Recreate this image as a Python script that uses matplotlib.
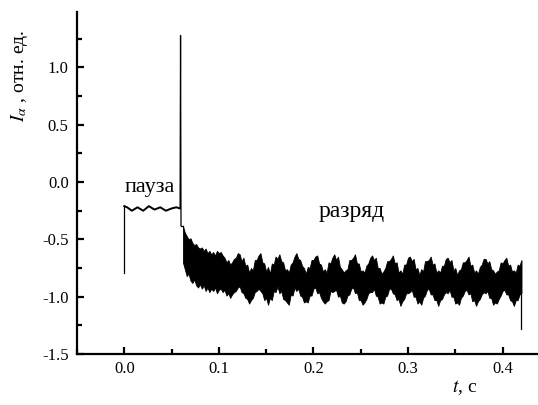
import numpy as np
import matplotlib
matplotlib.use('Agg')
import matplotlib.pyplot as plt
from matplotlib.ticker import MultipleLocator, FormatStrFormatter

plt.rcParams['font.family'] = ['Liberation Serif', 'DejaVu Serif']
plt.rcParams['mathtext.fontset'] = 'stix'
plt.rcParams['axes.unicode_minus'] = False

# ---- data ----
# pause part (t in s, I in rel. units)
t_pause = [0.0, 0.0, 0.003, 0.008, 0.014, 0.020, 0.026, 0.032, 0.038, 0.044, 0.050, 0.055, 0.059]
i_pause = [-0.79, -0.21, -0.22, -0.25, -0.22, -0.25, -0.21, -0.24, -0.22, -0.25, -0.23, -0.22, -0.23]

# switch spike
t_spike = [0.059, 0.0595, 0.0600]
i_spike = [-0.23, 1.28, -0.38]

# discharge part: upper / lower edge of the noisy band, every 2 ms from 0.062 s
t_band = np.round(0.062 + 0.002 * np.arange(180), 3)
band_hi = [
    -0.38, -0.44, -0.47, -0.50, -0.49, -0.53, -0.55, -0.54, -0.57, -0.58,
    -0.57, -0.60, -0.58, -0.62, -0.60, -0.63, -0.61, -0.64, -0.60, -0.62,
    -0.61, -0.64, -0.66, -0.70, -0.68, -0.72, -0.70, -0.67, -0.66, -0.62,
    -0.63, -0.69, -0.66, -0.73, -0.72, -0.79, -0.75, -0.77, -0.68, -0.68,
    -0.64, -0.62, -0.70, -0.71, -0.78, -0.74, -0.80, -0.71, -0.72, -0.65,
    -0.67, -0.63, -0.69, -0.70, -0.77, -0.76, -0.79, -0.72, -0.70, -0.65,
    -0.62, -0.67, -0.68, -0.73, -0.75, -0.80, -0.74, -0.75, -0.68, -0.68,
    -0.65, -0.64, -0.71, -0.72, -0.78, -0.76, -0.79, -0.70, -0.71, -0.66,
    -0.63, -0.68, -0.65, -0.74, -0.76, -0.79, -0.77, -0.76, -0.68, -0.68,
    -0.66, -0.63, -0.71, -0.71, -0.78, -0.77, -0.79, -0.73, -0.71, -0.66,
    -0.64, -0.68, -0.66, -0.75, -0.75, -0.80, -0.78, -0.75, -0.69, -0.69,
    -0.67, -0.64, -0.71, -0.70, -0.79, -0.77, -0.80, -0.72, -0.72, -0.66,
    -0.65, -0.69, -0.67, -0.76, -0.75, -0.81, -0.76, -0.78, -0.69, -0.69,
    -0.68, -0.65, -0.72, -0.71, -0.79, -0.77, -0.79, -0.73, -0.73, -0.67,
    -0.66, -0.70, -0.68, -0.77, -0.75, -0.81, -0.77, -0.76, -0.70, -0.70,
    -0.68, -0.65, -0.73, -0.72, -0.79, -0.77, -0.80, -0.74, -0.72, -0.67,
    -0.67, -0.71, -0.69, -0.76, -0.77, -0.80, -0.78, -0.77, -0.70, -0.71,
    -0.68, -0.66, -0.73, -0.72, -0.78, -0.77, -0.79, -0.72, -0.73, -0.68]
band_lo = [
    -0.70, -0.76, -0.82, -0.80, -0.86, -0.88, -0.85, -0.90, -0.92, -0.89,
    -0.93, -0.90, -0.95, -0.92, -0.96, -0.93, -0.95, -0.92, -0.97, -0.94,
    -0.93, -0.96, -0.94, -0.99, -0.97, -1.01, -0.98, -0.96, -0.95, -0.92,
    -0.91, -0.96, -0.97, -1.01, -1.02, -1.06, -1.03, -1.01, -0.96, -0.95,
    -0.93, -0.95, -0.97, -1.03, -1.01, -1.07, -1.01, -1.03, -0.95, -0.96,
    -0.91, -0.97, -0.95, -1.02, -1.03, -1.05, -1.07, -0.98, -0.99, -0.92,
    -0.95, -0.93, -0.99, -1.00, -1.05, -1.04, -1.05, -0.99, -0.99, -0.93,
    -0.92, -0.97, -0.96, -1.01, -1.04, -1.06, -1.04, -1.03, -0.95, -0.96,
    -0.95, -0.94, -1.00, -0.99, -1.05, -1.06, -1.04, -0.99, -0.98, -0.93,
    -0.92, -0.97, -0.96, -1.03, -1.03, -1.07, -1.05, -1.02, -0.97, -0.96,
    -0.96, -0.93, -0.99, -1.00, -1.06, -1.05, -1.06, -1.00, -0.99, -0.93,
    -0.93, -0.97, -0.98, -1.03, -1.02, -1.08, -1.04, -1.02, -0.97, -0.97,
    -0.96, -0.94, -1.00, -1.00, -1.06, -1.04, -1.07, -1.01, -0.99, -0.94,
    -0.93, -0.98, -0.98, -1.03, -1.03, -1.08, -1.03, -1.02, -0.98, -0.96,
    -0.97, -0.94, -1.00, -1.00, -1.06, -1.05, -1.07, -1.01, -0.99, -0.95,
    -0.94, -0.98, -0.97, -1.04, -1.03, -1.08, -1.04, -1.02, -0.98, -0.96,
    -0.97, -0.95, -1.01, -1.01, -1.07, -1.05, -1.06, -1.02, -0.99, -0.95,
    -0.94, -0.98, -0.98, -1.03, -1.04, -1.08, -1.03, -1.03, -0.98, -0.97]

# end of record
t_end = [0.42, 0.42]
i_end = [-0.70, -1.28]

# ---- plot ----
fig = plt.figure(figsize=(5.38, 4.05), dpi=100)
ax = fig.add_axes([77/538, 1 - 354/405, 1 - 77/538, (354 - 12)/405])

ax.plot(t_pause[:2], i_pause[:2], color='k', lw=0.9)
ax.plot(t_pause[1:], i_pause[1:], color='k', lw=1.4)
ax.plot(t_spike, i_spike, color='k', lw=0.9)
ax.fill_between(t_band, band_hi, band_lo, color='k', lw=0.6, edgecolor='k')
ax.plot([t_spike[-1], t_band[0]], [i_spike[-1], band_hi[0]], color='k', lw=0.9)
ax.plot(t_end, i_end, color='k', lw=0.9)

ax.text(0.0, -0.087, 'пауза', fontsize=16, ha='left', va='baseline')
ax.text(0.206, -0.305, 'разряд', fontsize=17, ha='left', va='baseline')

ax.set_xlim(-0.05, 0.4375)
ax.set_ylim(-1.5, 1.484)
ax.xaxis.set_major_locator(MultipleLocator(0.1))
ax.xaxis.set_minor_locator(MultipleLocator(0.05))
ax.yaxis.set_major_locator(MultipleLocator(0.5))
ax.yaxis.set_minor_locator(MultipleLocator(0.25))
ax.xaxis.set_major_formatter(FormatStrFormatter('%.1f'))
ax.yaxis.set_major_formatter(FormatStrFormatter('%.1f'))

for s in ['top', 'right']:
    ax.spines[s].set_visible(False)
for s in ['left', 'bottom']:
    ax.spines[s].set_linewidth(1.6)

ax.tick_params(which='major', direction='in', length=5, width=1.6, labelsize=12, pad=5)
ax.tick_params(which='minor', direction='in', length=3.5, width=1.6)
ax.tick_params(axis='y', which='major', pad=6)

fig.text(20/538, 1 - 76/405, '$I_\\alpha$ , отн. ед.', rotation=90, fontsize=14,
         ha='center', va='center')
fig.text(452/538, 1 - 392/405, '$t$, с', fontsize=14, ha='left', va='baseline')

fig.savefig('out.png', dpi=100)
